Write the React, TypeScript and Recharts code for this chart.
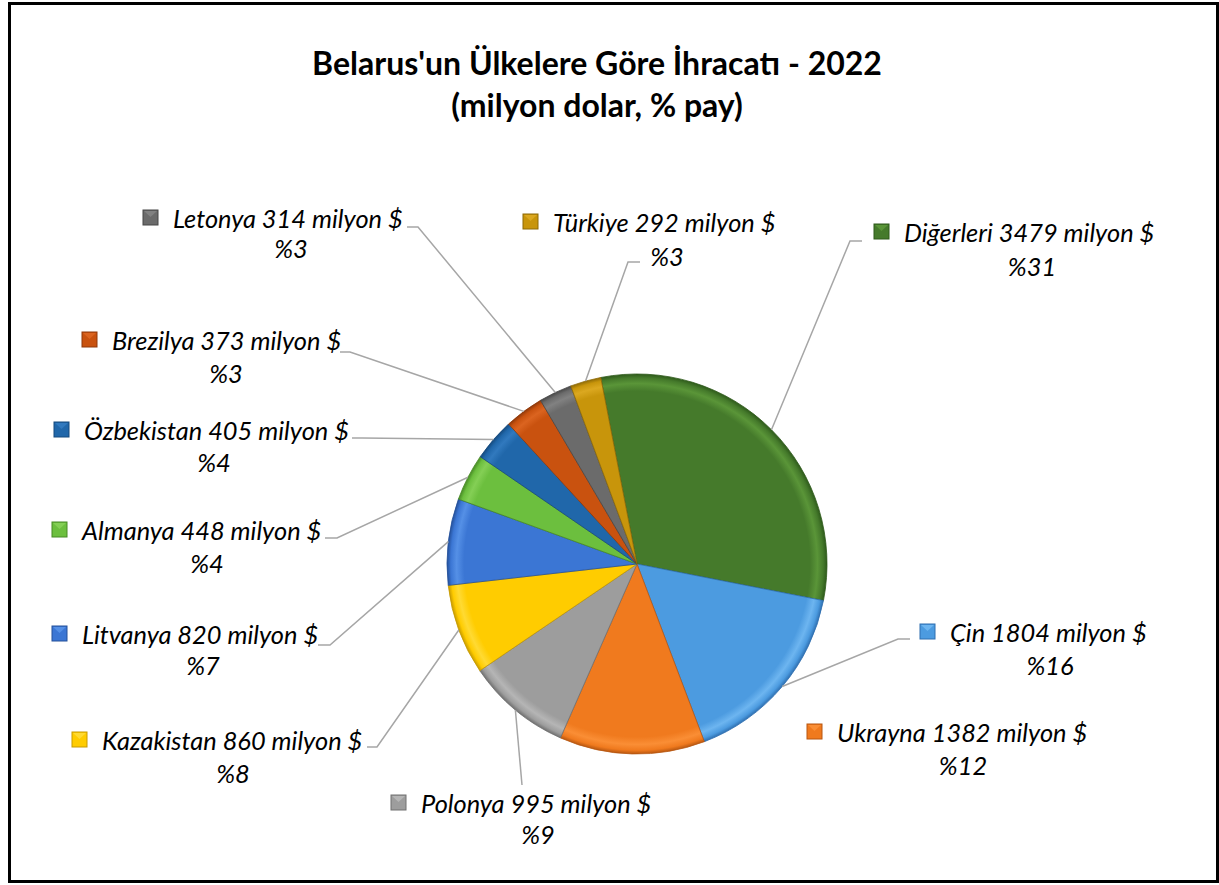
import React from 'react';
import { PieChart, Pie, Cell } from 'recharts';

const countries = ['Diğerleri', 'Çin', 'Ukrayna', 'Polonya', 'Kazakistan', 'Litvanya', 'Almanya', 'Özbekistan', 'Brezilya', 'Letonya', 'Türkiye'];
const exportValues = [3479, 1804, 1382, 995, 860, 820, 448, 405, 373, 314, 292];
const unitText = 'milyon $';
const titleLines = ["Belarus'un Ülkelere Göre İhracatı - 2022", '(milyon dolar, % pay)'];

const baseColors = ['#457A2B', '#4C9BE0', '#F07A1E', '#9D9D9D', '#FFCC00', '#3B76D4', '#6CBF3E', '#2067AA', '#C9520F', '#6B6B6B', '#C8950B'];
const lightColors = ['#5A9538', '#6DB5F0', '#FA8E35', '#B5B5B5', '#FFDA33', '#5590E6', '#84CF55', '#3179BE', '#DB6420', '#818181', '#DBA820'];
const darkColors = ['#2E5A1B', '#2E6FB0', '#B85710', '#707070', '#C79A00', '#24509A', '#478A25', '#154A7E', '#8F390A', '#474747', '#8E6A06'];

// label layout: text start x, first line center y, percent center x/y, leader start & elbow
type Layout = { tx: number; ty: number; px: number; py: number; line: number[] | null };
const labelLayout: Layout[] = [
  { tx: 904, ty: 232, px: 1032, py: 266, line: [862, 241, 850, 241] },
  { tx: 950, ty: 632, px: 1050, py: 665, line: [910, 639, 898, 639] },
  { tx: 837, ty: 732, px: 963, py: 765, line: null },
  { tx: 421, ty: 803, px: 538, py: 834, line: [522, 785, 522, 785] },
  { tx: 102, ty: 740, px: 233, py: 773, line: [367, 747, 377, 747] },
  { tx: 82, ty: 634, px: 203, py: 665, line: [318, 645, 330, 645] },
  { tx: 82, ty: 530, px: 207, py: 563, line: [325, 538, 337, 538] },
  { tx: 84, ty: 430, px: 214, py: 462, line: [352, 438, 362, 438] },
  { tx: 112, ty: 340, px: 226, py: 373, line: [340, 352, 350, 352] },
  { tx: 173, ty: 218, px: 291, py: 248, line: [407, 227, 418, 227] },
  { tx: 553, ty: 222, px: 667, py: 256, line: [640, 262, 628, 262] },
];

const data = countries.map((name, i) => ({ name, value: exportValues[i] }));

const PIE_CX = 637;
const PIE_CY = 564;
const PIE_R = 190;
const RAD = Math.PI / 180;
const FONT = 'Lato, "Open Sans", sans-serif';
const LABEL_SIZE = 25.4;

const renderLabel = (props: any) => {
  const { cx, cy, midAngle, outerRadius, index, percent, value, name } = props;
  const lay = labelLayout[index];
  const ex = cx + outerRadius * Math.cos(-midAngle * RAD);
  const ey = cy + outerRadius * Math.sin(-midAngle * RAD);
  const mx = lay.tx - 30;
  const my = lay.ty - 8;
  return (
    <g key={`lbl-${index}`}>
      {lay.line && (
        <polyline
          points={`${lay.line[0]},${lay.line[1]} ${lay.line[2]},${lay.line[3]} ${ex},${ey}`}
          fill="none"
          stroke="#A6A6A6"
          strokeWidth={1.5}
        />
      )}
      <rect x={mx} y={my} width={15} height={15} fill={baseColors[index]} stroke={darkColors[index]} strokeWidth={1} />
      <polygon points={`${mx + 1},${my + 1} ${mx + 14},${my + 1} ${mx + 7.5},${my + 7}`} fill={lightColors[index]} />
      <text x={lay.tx} y={lay.ty} dominantBaseline="central" fontFamily={FONT} fontStyle="italic" fontSize={LABEL_SIZE} fill="#000">
        {`${name} ${value} ${unitText}`}
      </text>
      <text x={lay.px} y={lay.py} dominantBaseline="central" textAnchor="middle" fontFamily={FONT} fontStyle="italic" fontSize={LABEL_SIZE} fill="#000">
        {`%${Math.round(percent * 100)}`}
      </text>
    </g>
  );
};

export default function App() {
  return (
    <div style={{ position: 'absolute', left: 0, top: 0, width: 1219, height: 885, background: '#fff' }}>
      <div style={{ position: 'absolute', left: 0, top: 0 }}>
        <PieChart width={1219} height={885} margin={{ top: 0, right: 0, bottom: 0, left: 0 }}>
          <defs>
            {baseColors.map((c, i) => (
              <radialGradient key={i} id={`sg${i}`} gradientUnits="userSpaceOnUse" cx={PIE_CX} cy={PIE_CY} r={PIE_R} fx={PIE_CX} fy={PIE_CY}>
                <stop offset="0%" stopColor={c} />
                <stop offset="91%" stopColor={c} />
                <stop offset="95%" stopColor={lightColors[i]} />
                <stop offset="98%" stopColor={c} />
                <stop offset="100%" stopColor={darkColors[i]} />
              </radialGradient>
            ))}
          </defs>
          <Pie
            data={data}
            dataKey="value"
            nameKey="name"
            cx={PIE_CX}
            cy={PIE_CY}
            outerRadius={PIE_R}
            startAngle={101}
            endAngle={-259}
            isAnimationActive={false}
            labelLine={false}
            label={renderLabel}
          >
            {data.map((d, i) => (
              <Cell key={d.name} fill={`url(#sg${i})`} stroke={darkColors[i]} strokeWidth={0.8} />
            ))}
          </Pie>
        </PieChart>
      </div>
      <svg width={1219} height={885} style={{ position: 'absolute', left: 0, top: 0, pointerEvents: 'none' }}>
        <rect x={9.5} y={3.5} width={1208} height={878} fill="none" stroke="#000" strokeWidth={3} />
        <text x={597} y={62} textAnchor="middle" dominantBaseline="central" fontFamily={FONT} fontWeight="bold" fontSize={32} fill="#000">
          {titleLines[0]}
        </text>
        <text x={597} y={104} textAnchor="middle" dominantBaseline="central" fontFamily={FONT} fontWeight="bold" fontSize={32} fill="#000">
          {titleLines[1]}
        </text>
      </svg>
    </div>
  );
}
